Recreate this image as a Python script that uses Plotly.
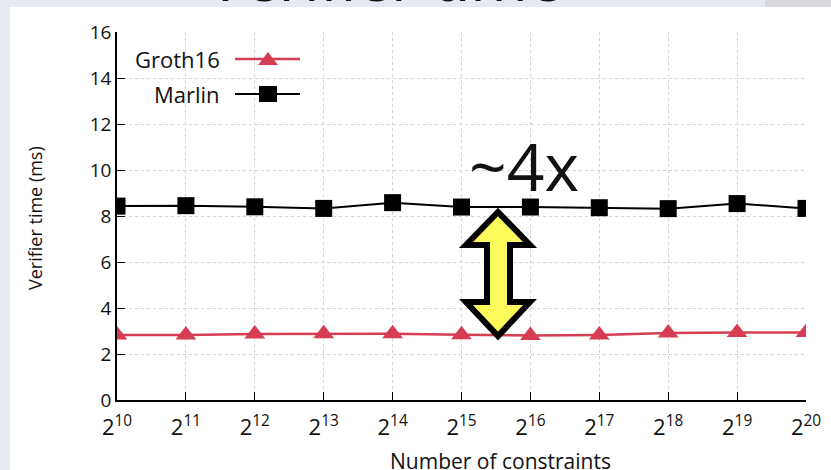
import plotly.graph_objects as go

# ---- data ----
exponents = [10, 11, 12, 13, 14, 15, 16, 17, 18, 19, 20]
groth16_ms = [2.83, 2.83, 2.87, 2.88, 2.88, 2.84, 2.80, 2.83, 2.91, 2.93, 2.93]
marlin_ms = [8.43, 8.45, 8.40, 8.33, 8.58, 8.39, 8.39, 8.36, 8.32, 8.54, 8.33]
x_tick_text = ["2<sup>%d</sup>" % e for e in exponents]
y_ticks = [0, 2, 4, 6, 8, 10, 12, 14, 16]

W, H = 831, 470
L, R, T, B = 117, 25, 32, 70
PW, PH = W - L - R, H - T - B

def px(x):
    return (x - L) / PW

def py(y):
    return (H - B - y) / PH

RED = "#d63c52"
FONT = "Open Sans"

fig = go.Figure()
fig.add_trace(go.Scatter(x=exponents, y=groth16_ms, mode="lines+markers", name="Groth16",
                         line=dict(color=RED, width=2.5),
                         marker=dict(symbol="triangle-up", size=18, color=RED), showlegend=False))
fig.add_trace(go.Scatter(x=exponents, y=marlin_ms, mode="lines+markers", name="Marlin",
                         line=dict(color="black", width=2),
                         marker=dict(symbol="square", size=17, color="black"), showlegend=False))

shapes = []
# white slide area
shapes.append(dict(type="rect", xref="paper", yref="paper", x0=px(10), x1=px(W + 5),
                   y0=py(H + 5), y1=py(7), fillcolor="white", line=dict(width=0), layer="below"))
shapes.append(dict(type="rect", xref="paper", yref="paper", x0=px(765), x1=px(W + 5),
                   y0=py(7), y1=py(-5), fillcolor="#d9dadf", line=dict(width=0), layer="below"))

# custom legend
for yy, col, w in [(59, RED, 2.5), (94, "black", 2)]:
    shapes.append(dict(type="line", xref="paper", yref="paper", x0=px(235), x1=px(300),
                       y0=py(yy), y1=py(yy), line=dict(color=col, width=w)))
tri = "M %f %f L %f %f L %f %f Z" % (px(258), py(65), px(278), py(65), px(268), py(52))
shapes.append(dict(type="path", xref="paper", yref="paper", path=tri, fillcolor=RED, line=dict(width=0)))
shapes.append(dict(type="rect", xref="paper", yref="paper", x0=px(259), x1=px(277),
                   y0=py(102), y1=py(86), fillcolor="black", line=dict(width=0)))

# double arrow
pts = [(498, 212), (530, 245), (510, 245), (510, 302), (530, 302), (498, 336),
       (466, 302), (487, 302), (487, 245), (466, 245)]
path = "M " + " L ".join("%f %f" % (px(a), py(b)) for a, b in pts) + " Z"
shapes.append(dict(type="path", xref="paper", yref="paper", path=path,
                   fillcolor="#fbfb5c", line=dict(color="black", width=6)))

annotations = [
    dict(text="Groth16", xref="paper", yref="paper", x=px(222), y=py(59), xanchor="right",
         yanchor="middle", showarrow=False, font=dict(family=FONT, size=22, color="#111")),
    dict(text="Marlin", xref="paper", yref="paper", x=px(222), y=py(94), xanchor="right",
         yanchor="middle", showarrow=False, font=dict(family=FONT, size=22, color="#111")),
    dict(text="~4x", xref="paper", yref="paper", x=px(524), y=py(165), xanchor="center",
         yanchor="middle", showarrow=False, font=dict(family=FONT, size=66, color="#111")),
    dict(text="Verifier time", xref="paper", yref="paper", x=px(385), y=py(21), xanchor="center",
         yanchor="bottom", showarrow=False, font=dict(family=FONT, size=62, color="#111")),
    dict(text="Number of constraints", xref="paper", yref="paper", x=px(500), y=py(461),
         xanchor="center", yanchor="middle", showarrow=False,
         font=dict(family=FONT, size=21, color="#111")),
    dict(text="Verifier time (ms)", xref="paper", yref="paper", x=px(35), y=py(218),
         xanchor="center", yanchor="middle", textangle=-90, showarrow=False,
         font=dict(family=FONT, size=18, color="#111")),
]

fig.update_layout(
    width=W, height=H,
    margin=dict(l=L, r=R, t=T, b=B, autoexpand=False),
    paper_bgcolor="#e7e9f2", plot_bgcolor="white",
    shapes=shapes, annotations=annotations,
    font=dict(family=FONT, color="#111"),
    xaxis=dict(range=[10, 20], tickvals=exponents, ticktext=x_tick_text, automargin=False,
               showgrid=True, gridcolor="#d4d4d4", griddash="dot", gridwidth=1,
               showline=True, linecolor="black", linewidth=1.5,
               ticks="inside", ticklen=8, tickcolor="black", tickwidth=1,
               ticklabelstandoff=7, tickfont=dict(size=22), zeroline=False),
    yaxis=dict(range=[0, 16], tickvals=y_ticks, automargin=False,
               showgrid=True, gridcolor="#d4d4d4", griddash="dot", gridwidth=1,
               showline=True, linecolor="black", linewidth=1.5,
               ticks="inside", ticklen=8, tickcolor="black", tickwidth=1,
               tickfont=dict(size=19), zeroline=False),
)

fig.write_html("out.html", config={"displayModeBar": False},
               post_script="document.body.style.margin='0px';")
